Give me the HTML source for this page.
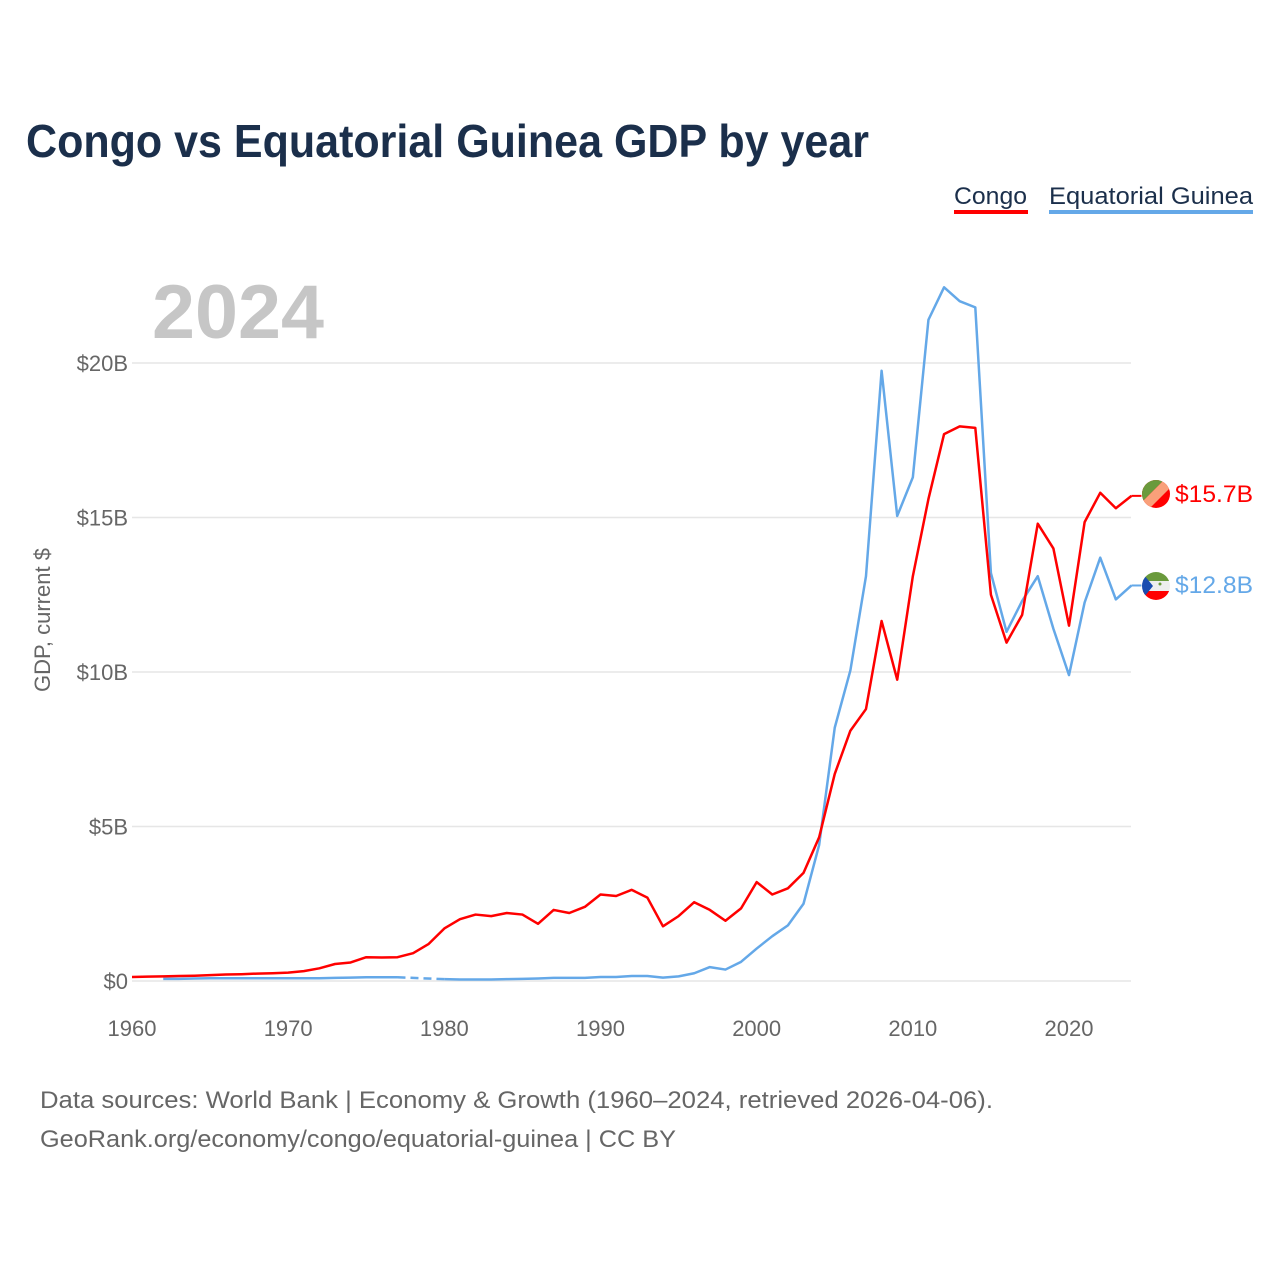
<!DOCTYPE html>
<html><head><meta charset="utf-8"><style>
body{margin:0;background:#fff;font-family:"Liberation Sans",sans-serif}
</style></head><body>
<svg width="1280" height="1280" xmlns="http://www.w3.org/2000/svg" font-family="Liberation Sans, sans-serif">
<rect width="1280" height="1280" fill="#fff"/>
<text x="26" y="157" font-size="46" font-weight="bold" fill="#1b2f4b" textLength="843" lengthAdjust="spacingAndGlyphs">Congo vs Equatorial Guinea GDP by year</text>
<g>
<text x="954" y="204" font-size="24" fill="#1b2f4b" textLength="73" lengthAdjust="spacingAndGlyphs">Congo</text>
<rect x="954" y="210" width="74" height="4" fill="#ff0000"/>
<text x="1049" y="204" font-size="24" fill="#1b2f4b" textLength="204" lengthAdjust="spacingAndGlyphs">Equatorial Guinea</text>
<rect x="1049" y="210" width="204" height="4" fill="#64a8e8"/>
</g>
<text x="152" y="338" font-size="76" font-weight="bold" fill="#c6c6c6" textLength="172" lengthAdjust="spacingAndGlyphs">2024</text>
<g id="grid"></g>
<g id="axes"></g>
<text transform="translate(50,620) rotate(-90)" text-anchor="middle" font-size="22" fill="#666">GDP, current $</text>
<g id="series"></g>
<g>
<clipPath id="c1"><circle cx="1156" cy="494" r="14"/></clipPath>
<g clip-path="url(#c1)"><rect x="1140" y="478" width="32" height="32" fill="#ff0000"/><polygon points="1140,478 1166,478 1140,504" fill="#6a9a3c"/><polygon points="1166,478 1174,478 1174,484 1146,512 1140,512 1140,504" fill="#f9a07a"/></g></g>
<g>
<clipPath id="c2"><circle cx="1156" cy="586" r="14"/></clipPath>
<g clip-path="url(#c2)"><rect x="1140" y="570" width="32" height="11" fill="#6a9a3c"/><rect x="1140" y="581" width="32" height="10" fill="#eee"/><rect x="1140" y="591" width="32" height="12" fill="#ff0000"/><polygon points="1140,570 1153,586 1140,602" fill="#1a4db0"/><circle cx="1160" cy="584" r="1.5" fill="#6a9a3c"/></g></g>
<text x="1175" y="502" font-size="24" fill="#ff0000" textLength="78" lengthAdjust="spacingAndGlyphs">$15.7B</text>
<text x="1175" y="593" font-size="24" fill="#64a8e8" textLength="78" lengthAdjust="spacingAndGlyphs">$12.8B</text>
<text x="40" y="1108" font-size="24" fill="#666" textLength="953" lengthAdjust="spacingAndGlyphs">Data sources: World Bank | Economy &amp; Growth (1960–2024, retrieved 2026-04-06).</text>
<text x="40" y="1147" font-size="24" fill="#666" textLength="636" lengthAdjust="spacingAndGlyphs">GeoRank.org/economy/congo/equatorial-guinea | CC BY</text>
</svg>
<script>
const years=[];for(let y=1960;y<=2024;y++)years.push(y);
const congo=[0.13,0.14,0.15,0.16,0.17,0.19,0.21,0.22,0.24,0.25,0.27,0.32,0.41,0.55,0.6,0.77,0.76,0.77,0.9,1.2,1.7,2.0,2.15,2.1,2.2,2.15,1.85,2.3,2.2,2.4,2.8,2.75,2.95,2.7,1.77,2.1,2.55,2.3,1.95,2.35,3.2,2.8,3.0,3.5,4.65,6.7,8.1,8.8,11.65,9.75,13.1,15.6,17.7,17.95,17.9,12.5,10.95,11.85,14.8,14.0,11.5,14.85,15.8,15.3,15.7];
const eqGuinea=[null,null,0.07,0.07,0.08,0.09,0.09,0.09,0.09,0.09,0.09,0.09,0.09,0.1,0.11,0.12,0.12,0.12,null,null,0.06,0.05,0.05,0.05,0.06,0.07,0.08,0.1,0.1,0.1,0.13,0.13,0.16,0.16,0.11,0.15,0.25,0.45,0.37,0.62,1.05,1.45,1.8,2.5,4.4,8.2,10.05,13.1,19.75,15.05,16.3,21.4,22.45,22.0,21.8,13.2,11.3,12.3,13.1,11.4,9.9,12.25,13.7,12.35,12.8];
const yTicks=[0,5,10,15,20];
const xTicks=[1960,1970,1980,1990,2000,2010,2020];
const X=y=>132+(y-1960)*(937/60);
const Y=v=>981-v*30.9;
const NS="http://www.w3.org/2000/svg";
function mk(t,a,p){const e=document.createElementNS(NS,t);for(const k in a)e.setAttribute(k,a[k]);p.appendChild(e);return e;}
const grid=document.getElementById('grid'),axes=document.getElementById('axes'),ser=document.getElementById('series');
yTicks.forEach(v=>{
 const l=mk('line',{x1:132,x2:1131,y1:Y(v),y2:Y(v),stroke:'#e6e6e6','stroke-width':1.5},grid);
 
 
 const t=mk('text',{x:128,y:Y(v)+8,'text-anchor':'end','font-size':22,fill:'#666'},axes);
 t.textContent='$'+v+(v?'B':'');
 
 
});
xTicks.forEach(y=>{
 const t=mk('text',{x:X(y),y:1036,'text-anchor':'middle','font-size':22,fill:'#666'},axes);
 t.textContent=y;
 
 
});
function draw(vals,color,name){
 let segs=[],cur=[],last=null,gaps=[];
 vals.forEach((v,i)=>{
  if(v==null){if(cur.length){segs.push(cur);last=cur[cur.length-1];cur=[];}return;}
  const p=[X(years[i]),Y(v)];
  if(!cur.length&&last){gaps.push([last,p]);last=null;}
  cur.push(p);
 });
 if(cur.length)segs.push(cur);
 segs.forEach(s=>{
  const e=mk('polyline',{points:s.map(p=>p.join(',')).join(' '),fill:'none',stroke:color,'stroke-width':2.5,'stroke-linejoin':'round'},ser);
  
  
 });
 gaps.forEach(g=>{
  const e=mk('line',{x1:g[0][0],y1:g[0][1],x2:g[1][0],y2:g[1][1],stroke:color,'stroke-width':2.5,'stroke-dasharray':'8,5'},ser);
  
  
 });
 const lv=vals[vals.length-1];
 const t=mk('line',{x1:X(2024),y1:Y(lv),x2:X(2024)+10,y2:Y(lv),stroke:color,'stroke-width':2},ser);
 
 
}
draw(eqGuinea,'#64a8e8','equatorial-guinea');
draw(congo,'#ff0000','congo');
</script>
</body></html>
